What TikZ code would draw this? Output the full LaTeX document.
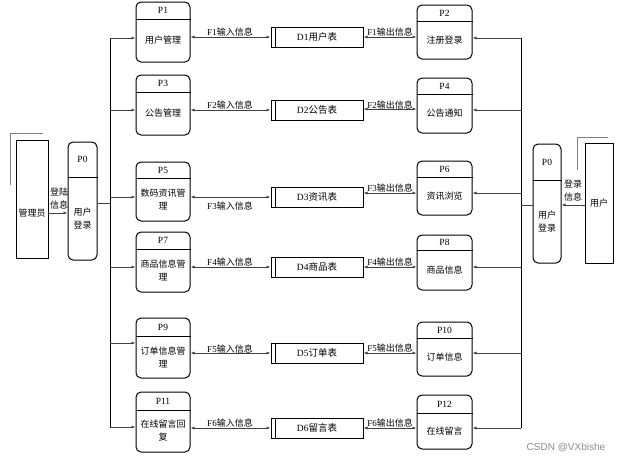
\documentclass[tikz,border=0pt]{standalone}
\usepackage{fontspec}
\setmainfont{Liberation Serif}
\newfontfamily\cjk{Noto Sans CJK SC}
\newfontfamily\wmfont{Liberation Sans}
\usetikzlibrary{arrows.meta}
\newcommand\mkproc[8]{%
  \node[procbox, minimum width={#4-#2}, minimum height={#5-#3}] (#1) at ({(#2+#4)/2},{(#3+#5)/2}) {};
  \draw[divl] (#1.west |- 0,#6) -- (#1.east |- 0,#6);
  \node[ttl] (#1t) at ({(#2+#4)/2},{(#3+#6)/2}) {#7};
  \node[bdy] (#1b) at ({(#2+#4)/2},{(#6+#5)/2}) {#8};
}
\newcommand\mkstore[3]{%
  \node[store] (#1) at (317,#2) {#3};
  \draw[divl] ([xshift=5pt]#1.north west) -- ([xshift=5pt]#1.south west);
}
\begin{document}
\begin{tikzpicture}[x=1pt,y=-1pt,
  procbox/.style={draw=black, line width=1pt, rounded corners=5pt, inner sep=0pt},
  divl/.style={draw=black, line width=1pt},
  ttl/.style={font=\fontsize{9.5}{10}\selectfont, inner sep=0pt},
  bdy/.style={font=\cjk\fontsize{9}{13}\selectfont, align=center, inner sep=0pt},
  store/.style={draw=black, line width=1pt, inner sep=0pt, minimum width=92pt, minimum height=20pt,
    font=\fontsize{9.5}{10}\selectfont},
  ext/.style={draw=black, line width=1pt, inner sep=0pt},
  conn/.style={draw=black!75, line width=0.9pt},
  bus/.style={draw=black, line width=0.9pt},
  gline/.style={draw=black!50, line width=1pt},
  arr/.style={conn, -{Latex[length=4pt,width=3pt]}},
  darr/.style={conn, {Latex[length=4pt,width=3pt]}-{Latex[length=4pt,width=3pt]}},
  flow/.style={font=\fontsize{9}{10}\selectfont, inner sep=0.5pt},
  lbl/.style={font=\cjk\fontsize{9}{13}\selectfont, align=center, inner sep=0pt}
]
\useasboundingbox (0,0) rectangle (627,464);

% ---------- left external entity and P0 ----------
\node[ext, minimum width=32pt, minimum height=118pt] (admin) at (32,199) {};
\node[lbl] at (32,213) {管理员};
\coordinate (adminA) at (10,185);
\coordinate (adminB) at (10,133);
\coordinate (adminC) at (43,133);
\draw[gline] (adminA) -- (adminB) -- (adminC);

\mkproc{p0l}{68}{142}{97}{260}{177}{P0}{用户\\登录}
\draw[arr] (admin.east |- 0,213) -- (p0l.west |- 0,213);
\node[lbl] (lblL) at (59,199) {登陆\\信息};

% ---------- right external entity and P0 ----------
\node[ext, minimum width=28pt, minimum height=120pt] (user) at (599,203) {};
\node[lbl] at (599,203) {用户};
\coordinate (userA) at (577,170);
\coordinate (userB) at (577,137);
\coordinate (userC) at (608,137);
\draw[gline] (userA) -- (userB) -- (userC);

\mkproc{p0r}{533}{144}{561}{263}{180}{P0}{用户\\登录}
\draw[arr] (user.west |- 0,205) -- (p0r.east |- 0,205);
\node[lbl] (lblR) at (573,191) {登录\\信息};

% ---------- left processes ----------
\mkproc{p1}{136}{2}{190}{62}{19}{P1}{用户管理}
\mkproc{p3}{136}{75}{190}{135}{92}{P3}{公告管理}
\mkproc{p5}{136}{162}{190}{221}{178}{P5}{数码资讯管\\理}
\mkproc{p7}{136}{232}{190}{292}{249}{P7}{商品信息管\\理}
\mkproc{p9}{136}{318}{190}{378}{336}{P9}{订单信息管\\理}
\mkproc{p11}{136}{392}{190}{452}{410}{P11}{在线留言回\\复}

% ---------- right processes ----------
\mkproc{p2}{417}{5}{472}{59}{21}{P2}{注册登录}
\mkproc{p4}{417}{78}{472}{133}{94}{P4}{公告通知}
\mkproc{p6}{417}{161}{472}{215}{177}{P6}{资讯浏览}
\mkproc{p8}{417}{235}{472}{290}{250}{P8}{商品信息}
\mkproc{p10}{417}{322}{472}{376}{338}{P10}{订单信息}
\mkproc{p12}{417}{395}{472}{449}{413}{P12}{在线留言}

% ---------- data stores ----------
\mkstore{d1}{37}{D1{\cjk 用户表}}
\mkstore{d2}{110}{D2{\cjk 公告表}}
\mkstore{d3}{197}{D3{\cjk 资讯表}}
\mkstore{d4}{267}{D4{\cjk 商品表}}
\mkstore{d5}{353}{D5{\cjk 订单表}}
\mkstore{d6}{428}{D6{\cjk 留言表}}

% ---------- left bus ----------
\coordinate (blt) at (110,38);
\coordinate (blb) at (110,427);
\coordinate (blm) at (110,203);
\draw[bus] (blt) -- (blb);
\draw[conn] (p0l.east |- blm) -- (blm);
\draw[arr] (blt) -- (p1.west |- blt);
\draw[arr] (blt |- 0,110) -- (p3.west |- 0,110);
\draw[arr] (blt |- 0,197) -- (p5.west |- 0,197);
\draw[arr] (blt |- 0,267) -- (p7.west |- 0,267);
\draw[arr] (blt |- 0,343) -- (p9.west |- 0,343);
\draw[arr] (blb) -- (p11.west |- blb);

% ---------- right bus ----------
\coordinate (brt) at (521,38);
\coordinate (brb) at (521,428);
\coordinate (brm) at (521,205);
\draw[bus] (brt) -- (brb);
\draw[conn] (p0r.west |- brm) -- (brm);
\draw[arr] (brt) -- (p2.east |- brt);
\draw[arr] (brt |- 0,110) -- (p4.east |- 0,110);
\draw[arr] (brt |- 0,193) -- (p6.east |- 0,193);
\draw[arr] (brt |- 0,267) -- (p8.east |- 0,267);
\draw[arr] (brt |- 0,353) -- (p10.east |- 0,353);
\draw[arr] (brb) -- (p12.east |- brb);

% ---------- flows left ----------
\draw[darr] (p1.east |- d1) -- (d1.west);
\draw[darr] (p3.east |- d2) -- (d2.west);
\draw[darr] (p5.east |- d3) -- (d3.west);
\draw[darr] (p7.east |- d4) -- (d4.west);
\draw[darr] (p9.east |- d5) -- (d5.west);
\draw[darr] (p11.east |- d6) -- (d6.west);
\node[flow] at (230,32) {F1{\cjk 输入信息}};
\node[flow] at (230,105) {F2{\cjk 输入信息}};
\node[flow] at (230,206) {F3{\cjk 输入信息}};
\node[flow] at (230,262) {F4{\cjk 输入信息}};
\node[flow] at (230,349) {F5{\cjk 输入信息}};
\node[flow] at (230,423) {F6{\cjk 输入信息}};

% ---------- flows right ----------
\draw[darr] (d1.east) -- (p2.west |- d1);
\draw[darr] (d2.east |- 0,109) -- (p4.west |- 0,109);
\draw[darr] (d3.east |- 0,193) -- (p6.west |- 0,193);
\draw[darr] (d4.east) -- (p8.west |- d4);
\draw[darr] (d5.east) -- (p10.west |- d5);
\draw[darr] (d6.east) -- (p12.west |- d6);
\node[flow] at (390,32) {F1{\cjk 输出信息}};
\node[flow] at (390,105) {F2{\cjk 输出信息}};
\node[flow] at (390,188) {F3{\cjk 输出信息}};
\node[flow] at (390,262) {F4{\cjk 输出信息}};
\node[flow] at (390,348) {F5{\cjk 输出信息}};
\node[flow] at (390,423) {F6{\cjk 输出信息}};

% ---------- watermark ----------
\node[font=\wmfont\fontsize{10}{12}\selectfont, text=black!45, inner sep=0pt] at (566,448) {CSDN @VXbishe};
\end{tikzpicture}
\end{document}
